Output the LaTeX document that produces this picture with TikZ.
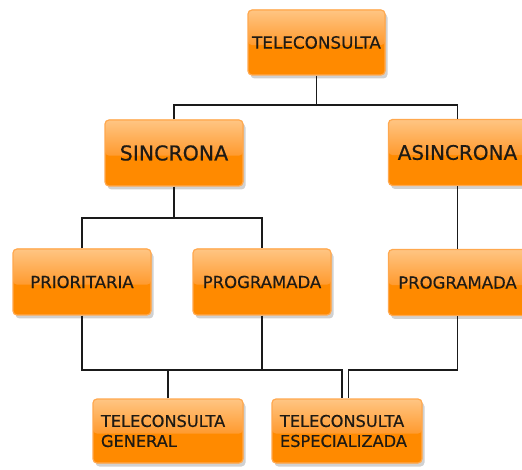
\documentclass[tikz,border=0pt]{standalone}
\usepackage{fontspec}
\setmainfont[FakeBold=0.5]{DejaVu Sans}
\usetikzlibrary{shadows,calc}

\definecolor{boxlow}{HTML}{FF8A00}
\definecolor{boxtop}{HTML}{FFC583}
\definecolor{boxmid}{HTML}{FF9A2E}
\definecolor{boxedge}{HTML}{FFA84E}
\definecolor{textdark}{HTML}{1E1A14}
\definecolor{linkcol}{HTML}{1A1A1A}

\tikzset{
  box/.style={draw=boxedge, line width=1.2pt, rounded corners=4pt,
    fill=boxlow, inner sep=0pt, text=textdark,
    minimum width=138pt, minimum height=66pt,
    drop shadow={shadow xshift=2.5pt, shadow yshift=-3.5pt, opacity=0.3, fill=black!60},
    path picture={
      \fill[boxlow] (path picture bounding box.south west) rectangle (path picture bounding box.north east);
      \shade[top color=boxtop, bottom color=boxmid]
        (path picture bounding box.north west) rectangle
        ($(path picture bounding box.south east)!0.46!(path picture bounding box.north east)$);
    }},
  twoline/.style={box, minimum width=150pt, minimum height=64pt,
    text width=134pt, align=left, font=\fontsize{16.2}{20}\selectfont},
  link/.style={draw=linkcol, line width=1.4pt}
}

\begin{document}
\begin{tikzpicture}[x=1pt, y=-1pt]
  \useasboundingbox (0,0) rectangle (522,470);
  \clip (0,0) rectangle (522,470);

  % boxes
  \node[box, minimum width=137pt, minimum height=65pt, font=\fontsize{16.8}{20}\selectfont]
    (tc) at (316.5,42.5) {TELECONSULTA};
  \node[box, font=\fontsize{20.5}{24}\selectfont] (sin) at (174,153) {SINCRONA};
  \node[box, font=\fontsize{20}{24}\selectfont] (asin) at (457.5,152.5) {ASINCRONA};
  \node[box, font=\fontsize{16.5}{20}\selectfont] (prio) at (82,282) {PRIORITARIA};
  \node[box, font=\fontsize{16.5}{20}\selectfont] (prog1) at (262,282) {PROGRAMADA};
  \node[box, font=\fontsize{16.5}{20}\selectfont] (prog2) at (457.5,282.5) {PROGRAMADA};
  \node[twoline] (gen) at (168,431) {TELECONSULTA\\GENERAL};
  \node[twoline] (esp) at (347,431) {TELECONSULTA\\ESPECIALIZADA};

  % junctions
  \coordinate (j1) at (316.5,105);
  \coordinate (j2) at (174,218);
  \coordinate (j3) at (262,370);

  % connectors
  \draw[link] (tc.south) -- (j1);
  \draw[link] (sin.north) |- (j1) -| (asin.north);
  \draw[link, line width=2.2pt] (sin.south) -- (j2);
  \draw[link] (prio.north) |- (j2) -| (prog1.north);
  \draw[link] (asin.south) -- (prog2.north);
  \draw[link] (prog1.south) -- (j3);
  \draw[link] (prio.south) |- (j3) -| ([xshift=-5pt]esp.north);
  \draw[link] (gen.north) -- (gen.north |- j3);
  \draw[link] (prog2.south) |- ([xshift=1.5pt,yshift=28.5pt]esp.north) -- ([xshift=1.5pt]esp.north);
\end{tikzpicture}
\end{document}
